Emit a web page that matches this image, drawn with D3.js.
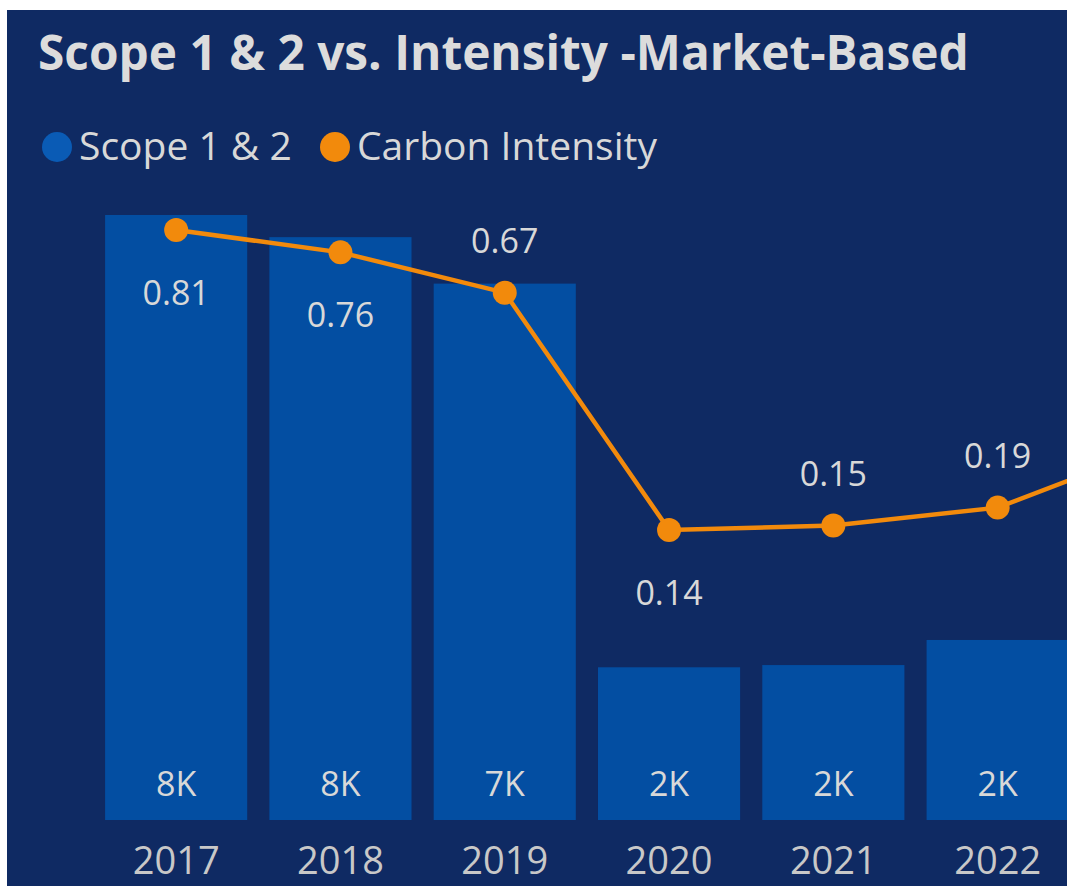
<!DOCTYPE html>
<html>
<head>
<meta charset="utf-8">
<script src="https://cdn.jsdelivr.net/npm/d3@7"></script>
<style>
  html, body { margin: 0; padding: 0; background: #ffffff; }
  svg { display: block; }
</style>
</head>
<body>
<script>
// ---- data ----
const years = ["2017", "2018", "2019", "2020", "2021", "2022", "2023"];
const visibleYears = ["2017", "2018", "2019", "2020", "2021", "2022"];
const scopeValues = [8200, 7900, 7270, 2070, 2100, 2440, null];
const scopeLabels = ["8K", "8K", "7K", "2K", "2K", "2K", ""];
const intensityValues = [0.81, 0.76, 0.67, 0.14, 0.15, 0.19, 0.33];
const intensityLabelPos = ["below", "below", "above", "below", "above", "above", "above"];
const titleText = "Scope 1 & 2 vs. Intensity -Market-Based";
const legendItems = ["Scope 1 & 2", "Carbon Intensity"];

// ---- layout ----
const W = 1067, H = 886;
const bg = "#0f2a63", barColor = "#034ea2", lineColor = "#f28a0c", textColor = "#d8d8d8";
const font = "'Open Sans', 'Noto Sans', sans-serif";

const svg = d3.select("body").append("svg").attr("width", W).attr("height", H);
svg.append("rect").attr("x", 7).attr("y", 10).attr("width", W - 7).attr("height", H - 10).attr("fill", bg);

// x band scale
const x = d3.scaleBand().domain(years).range([94, 94 + 164.3 * years.length]).paddingInner(0.135).paddingOuter(0.0675);
// bar scale
const yBar = d3.scaleLinear().domain([0, 10000]).range([820, 820 - 737.8]);
// line scale
const yLine = d3.scaleLinear().domain([0, 1]).range([592.7, 592.7 - 447.8]);

svg.append("defs").append("clipPath").attr("id", "clip")
  .append("rect").attr("x", 7).attr("y", 10).attr("width", W - 7).attr("height", H - 10);
const g = svg.append("g").attr("clip-path", "url(#clip)");

const idx = d3.range(years.length);
const vis = idx.filter(i => visibleYears.includes(years[i]));

// bars
g.selectAll("rect.bar").data(idx.filter(i => scopeValues[i] != null)).join("rect")
  .attr("class", "bar")
  .attr("x", i => x(years[i]))
  .attr("width", x.bandwidth())
  .attr("y", i => yBar(scopeValues[i]))
  .attr("height", i => yBar(0) - yBar(scopeValues[i]))
  .attr("fill", barColor);

// bar labels
g.selectAll("text.blabel").data(vis).join("text")
  .attr("class", "blabel")
  .attr("x", i => x(years[i]) + x.bandwidth() / 2)
  .attr("y", 796)
  .attr("text-anchor", "middle")
  .attr("font-family", font).attr("font-size", 34)
  .attr("fill", textColor)
  .text(i => scopeLabels[i]);

// x axis
const xAxis = d3.axisBottom(x).tickValues(visibleYears).tickSize(0).tickPadding(0);
const ax = g.append("g").attr("transform", "translate(0,820)").call(xAxis);
ax.select(".domain").remove();
ax.selectAll("text")
  .attr("font-family", font).attr("font-size", 38)
  .attr("fill", "#c8c8c8")
  .attr("dy", null)
  .attr("y", 54);

// line
const cx = i => x(years[i]) + x.bandwidth() / 2;
const line = d3.line().x(i => cx(i)).y(i => yLine(intensityValues[i]));
g.append("path").datum(idx).attr("d", line)
  .attr("fill", "none").attr("stroke", lineColor).attr("stroke-width", 4.5);
g.selectAll("circle.pt").data(idx).join("circle")
  .attr("class", "pt")
  .attr("cx", cx).attr("cy", i => yLine(intensityValues[i]))
  .attr("r", 12).attr("fill", lineColor);

g.selectAll("text.llabel").data(vis).join("text")
  .attr("class", "llabel")
  .attr("x", cx)
  .attr("y", i => yLine(intensityValues[i]) + (intensityLabelPos[i] === "below" ? 75 : -40))
  .attr("text-anchor", "middle")
  .attr("font-family", font).attr("font-size", 34)
  .attr("fill", textColor)
  .text(i => intensityValues[i].toFixed(2));

// title
svg.append("text").attr("x", 38).attr("y", 70)
  .attr("font-family", font).attr("font-weight", 700).attr("font-size", 47.8)
  .attr("fill", "#dcdcdc").text(titleText);

// legend
const legendX = [57, 335];
legendItems.forEach((t, i) => {
  svg.append("circle").attr("cx", legendX[i]).attr("cy", 147).attr("r", 15).attr("fill", i === 0 ? "#0a5bb5" : lineColor);
  svg.append("text").attr("x", legendX[i] + 22).attr("y", 160)
    .attr("font-family", font).attr("font-size", 39)
    .attr("fill", textColor).text(t);
});
</script>
</body>
</html>
